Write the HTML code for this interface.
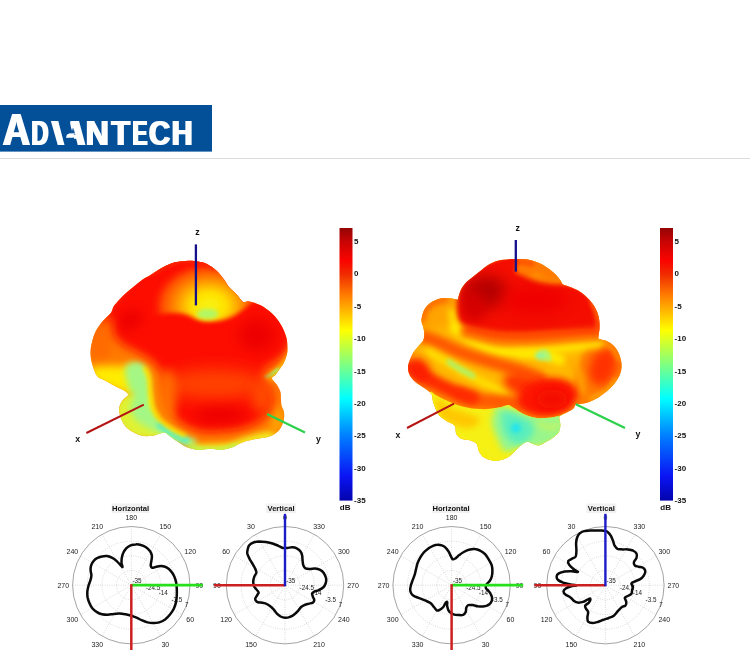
<!DOCTYPE html>
<html lang="en"><head><meta charset="utf-8"><title>Advantech antenna radiation pattern</title>
<style>html,body{margin:0;padding:0;background:#fff;overflow:hidden}body{width:750px;height:650px;font-family:"Liberation Sans",sans-serif}svg text{white-space:pre}</style></head>
<body>
<svg width="750" height="650" viewBox="0 0 750 650" style="display:block">
<defs>
<linearGradient id="jet" x1="0" y1="0" x2="0" y2="1">
<stop offset="0" stop-color="#940404"/>
<stop offset="0.05" stop-color="#c80404"/>
<stop offset="0.12" stop-color="#fa0400"/>
<stop offset="0.17" stop-color="#f02c00"/>
<stop offset="0.25" stop-color="#ff8000"/>
<stop offset="0.375" stop-color="#ffff00"/>
<stop offset="0.5" stop-color="#80ff80"/>
<stop offset="0.625" stop-color="#00ffff"/>
<stop offset="0.76" stop-color="#0080ff"/>
<stop offset="0.91" stop-color="#0a14f4"/>
<stop offset="1" stop-color="#0404ac"/>
</linearGradient>
<clipPath id="clipL"><path d="M188.5 260.8C192.3 260.7 194.9 261 198 261.5C201.1 262 203.9 262.4 207 264C210.1 265.6 214 268.4 216.8 271C219.6 273.6 222 276.8 224 279.5C226 282.2 226.9 284.5 229 287C231.1 289.5 234.4 292.1 236.5 294.3C238.6 296.6 240.2 299.2 241.4 300.5C242.7 301.8 242.6 302.1 244 302.3C245.4 302.5 247.2 301.2 250 301.7C252.8 302.2 257.4 303.6 260.6 305.2C263.8 306.8 266.5 308.8 269.2 311C271.9 313.2 274.3 315.5 276.6 318.4C278.9 321.3 281.2 324.9 282.8 328.2C284.4 331.5 285.7 334.9 286.5 338C287.3 341.1 287.3 344 287.4 346.7C287.5 349.4 287.6 351.3 287 354C286.4 356.7 285.3 360 284 362.7C282.7 365.4 280.4 367.9 279 370C277.6 372.1 276.6 373.6 275.4 375C274.2 376.4 271.8 376.9 272 378.5C272.2 380.1 275.4 382.4 276.8 384.6C278.2 386.9 279.8 389.5 280.5 392C281.2 394.5 280.8 397.1 281 399.4C281.2 401.6 281.1 403.6 281.5 405.5C281.9 407.4 283.2 408.6 283.6 410.5C284.1 412.4 284.3 414.6 284.2 416.6C284.1 418.7 283.8 420.6 283 422.8C282.2 425 281 428 279.3 430C277.6 432 275.2 433.8 273 435C270.8 436.2 268.5 436.9 265.8 437.5C263.1 438.1 260.5 438.1 257 438.8C253.5 439.5 248 440.6 245 441.5C242 442.4 241.2 443 239 444C236.8 445 234.8 446.6 231.7 447.6C228.6 448.6 224.1 449.8 220.6 450C217.1 450.2 214.5 448.8 210.8 448.8C207.1 448.8 202.4 450.2 198.5 450C194.6 449.8 190.7 448.8 187.4 447.6C184.1 446.4 181.7 444.5 178.8 442.6C175.9 440.8 172.4 438.1 170.2 436.5C167.9 434.9 166.9 433.3 165.3 432.8C163.7 432.3 162.7 432.9 160.4 433.4C158.2 433.9 154.9 435.4 151.8 435.8C148.7 436.2 145.3 436.5 142 435.8C138.7 435.1 134.9 433.2 132 431.5C129.1 429.8 126.6 427.8 124.7 425.4C122.8 422.9 121.3 419.7 120.4 416.8C119.5 413.9 118.9 410.9 119.2 408.2C119.5 405.5 120.8 402.9 122.2 400.8C123.6 398.7 126.9 396.8 127.8 395.6C128.7 394.4 128.3 394.5 127.6 393.6C126.9 392.7 125.6 391.6 123.5 390.3C121.4 389 117.9 387.6 114.8 386C111.7 384.4 107.9 382.1 105 380.5C102.1 378.9 99.4 378.9 97.3 376.3C95.2 373.7 93.5 368.7 92.4 365C91.3 361.3 90.6 357.7 90.5 354C90.4 350.3 90.9 346.9 91.8 343C92.7 339.1 94 334.6 96 330.8C98 327 101 323.3 103.5 320.3C106 317.3 109.3 315.1 111 312.8C112.7 310.5 112.3 308.7 113.6 306.6C114.8 304.6 116.4 302.8 118.5 300.5C120.6 298.2 123.5 295.2 126 293C128.5 290.8 130.6 289.2 133.3 287C136 284.8 139.1 282 142 280C144.9 278 148.1 276.5 150.5 275C152.9 273.5 154.2 272.5 156.7 271C159.2 269.5 162.2 267.4 165.3 266C168.4 264.6 171.1 263.2 175 262.3C178.9 261.4 184.7 260.9 188.5 260.8Z"/></clipPath>
<clipPath id="clipR"><path d="M494.5 261.7C497.2 260.7 499.9 260.1 503.5 259.7C507.1 259.2 512.1 259.1 515.8 259C519.5 258.9 522.5 258.9 525.6 259.3C528.7 259.7 531.3 260.3 534.2 261.2C537.1 262.1 540.1 263.4 542.8 264.8C545.5 266.2 547.9 268.1 550.2 269.8C552.5 271.6 554.6 273.5 556.4 275.3C558.1 277.1 559.6 279.2 560.7 280.8C561.8 282.4 561.5 283.6 563 284.6C564.5 285.6 567.1 285.8 569.6 286.8C572.1 287.8 575.5 289 578.2 290.5C580.9 292 583.2 293.9 585.6 296C588 298.1 590.5 300.9 592.4 303.4C594.2 305.9 595.6 308.1 596.7 310.8C597.8 313.5 598.8 316.3 599.2 319.4C599.7 322.5 599.5 326.2 599.4 329.2C599.2 332.2 598.3 335.8 598.3 337.5C598.3 339.2 598.2 338.7 599.6 339.3C601 339.9 604.1 339.9 606.5 341C608.9 342.1 612 343.9 614 346C616 348.1 617.6 350.8 618.8 353.5C620 356.2 620.9 359.3 621.3 362C621.7 364.7 621.7 367 621.3 369.5C620.9 372 620 374.6 618.8 377C617.6 379.4 616 381.8 614 384.2C612 386.6 609.2 389.3 606.5 391.6C603.8 393.9 600.9 396.1 598 397.8C595.1 399.5 592.2 401 589.3 402C586.4 403 583 403.6 580.7 404C578.5 404.4 577 403.7 575.8 404.5C574.6 405.3 574.8 407.5 573.3 408.8C571.8 410.1 569 411.4 567 412.5C565 413.6 562.3 414.7 561 415.5C559.7 416.3 559.3 416 559.2 417.5C559.1 419 560.3 422 560.3 424.4C560.3 426.8 560 429.8 559 431.8C558 433.9 556.2 435.1 554.2 436.7C552.2 438.3 549.3 440.2 546.8 441.6C544.3 443 541.7 444.9 539.4 445.3C537.1 445.7 535.3 444.6 533.2 444C531.1 443.4 529.2 441.4 527 441.8C524.8 442.2 522 444.7 519.7 446.5C517.5 448.3 515.5 450.8 513.5 452.7C511.4 454.6 509.6 456.3 507.4 457.6C505.1 458.9 502.4 459.8 500 460.3C497.6 460.8 495.4 461.1 492.7 460.7C490 460.2 486.3 459.1 484 457.6C481.7 456.1 480.2 453.8 479 451.5C477.8 449.2 478.1 445.9 476.7 444C475.3 442.1 472.9 441.2 470.5 440.4C468.1 439.6 464.4 440 462 439C459.6 438 457.6 436.4 456.4 434.2C455.1 432 456.2 427.9 454.5 425.6C452.8 423.4 448.7 422.6 446 420.7C443.3 418.8 440.6 417.4 438.5 414.5C436.4 411.6 434.7 406.6 433.6 403.5C432.5 400.4 432.4 397.6 432 396C431.6 394.4 432.3 395 431.5 394C430.7 393 429.1 391.6 427.2 390.2C425.2 388.8 422.1 386.9 419.8 385.3C417.5 383.7 415.4 382.2 413.6 380.4C411.9 378.5 410.2 376.5 409.3 374.2C408.4 371.9 407.9 369.2 408 366.8C408.1 364.4 409.1 362 410 359.5C410.9 357 412.2 354.2 413.6 352C415 349.8 416.9 348 418.5 346C420.1 344 422.6 342.1 423.5 339.8C424.4 337.5 424.2 334.5 424.2 332.4C424.1 330.3 423.6 328.7 423.2 327C422.8 325.3 421.8 323.8 421.6 322C421.4 320.2 421.5 318.7 422 316.5C422.5 314.3 423.4 311.1 424.7 309C426 306.9 427.8 305.1 429.6 303.6C431.5 302.1 433.6 300.9 435.8 300C438 299.1 440.6 298.3 443 298C445.4 297.7 448.2 298.1 450.5 298.3C452.8 298.6 455.5 299.3 456.7 299.5C457.9 299.7 457.6 299.8 457.9 299.3C458.2 298.9 458 298.4 458.5 296.8C459 295.2 459.7 292 461 289.5C462.3 287 464.3 284.2 466.5 282C468.7 279.8 471.6 277.9 474 276C476.4 274.1 478.4 272.5 480.6 270.8C482.8 269.1 484.9 267.1 487.2 265.6C489.5 264.1 491.8 262.7 494.5 261.7Z"/></clipPath>
<filter id="b1" filterUnits="userSpaceOnUse" x="0" y="200" width="750" height="320"><feGaussianBlur stdDeviation="1"/></filter>
<filter id="b2" filterUnits="userSpaceOnUse" x="0" y="200" width="750" height="320"><feGaussianBlur stdDeviation="2"/></filter>
<filter id="b3" filterUnits="userSpaceOnUse" x="0" y="200" width="750" height="320"><feGaussianBlur stdDeviation="3"/></filter>
<filter id="b4" filterUnits="userSpaceOnUse" x="0" y="200" width="750" height="320"><feGaussianBlur stdDeviation="4"/></filter>
<filter id="b5" filterUnits="userSpaceOnUse" x="0" y="200" width="750" height="320"><feGaussianBlur stdDeviation="5"/></filter>
<filter id="b6" filterUnits="userSpaceOnUse" x="0" y="200" width="750" height="320"><feGaussianBlur stdDeviation="6"/></filter>
<filter id="b7" filterUnits="userSpaceOnUse" x="0" y="200" width="750" height="320"><feGaussianBlur stdDeviation="7"/></filter>
<filter id="b8" filterUnits="userSpaceOnUse" x="0" y="200" width="750" height="320"><feGaussianBlur stdDeviation="8"/></filter>
<filter id="b10" filterUnits="userSpaceOnUse" x="0" y="200" width="750" height="320"><feGaussianBlur stdDeviation="10"/></filter>
<filter id="b12" filterUnits="userSpaceOnUse" x="0" y="200" width="750" height="320"><feGaussianBlur stdDeviation="12"/></filter>
<filter id="fat1" x="-20%" y="-5%" width="140%" height="110%"><feMorphology operator="dilate" radius="1 0"/></filter><filter id="fat2" x="-20%" y="-5%" width="140%" height="110%"><feMorphology operator="dilate" radius="2 0"/></filter>
</defs>
<rect width="750" height="650" fill="#fff"/>
<rect x="0" y="105" width="212" height="46.6" fill="#034f98"/>
<rect x="0" y="158" width="750" height="1" fill="#dcdcdc"/>
<clipPath id="cV"><path d="M45 118H55.5L63 147H45Z"/></clipPath>
<clipPath id="cA"><path d="M71 118H80L88 147H78.5L75.6 137.2L67 138V135.5L74 132.2Z"/></clipPath>
<g fill="#fff" font-family="'Liberation Sans',sans-serif" font-weight="bold" font-size="100"><g filter="url(#fat1)"><text transform="translate(2.7 144.8) scale(0.3786 0.4419)">A</text></g><g filter="url(#fat1)"><text transform="translate(31.4 144.8) scale(0.2348 0.3503)">D</text></g><g filter="url(#fat2)"><g clip-path="url(#cV)"><text transform="translate(52.8 144.8) scale(0.2694 0.3503)">V</text></g></g><g filter="url(#fat2)"><g clip-path="url(#cA)"><text transform="translate(65.4 144.8) scale(0.2579 0.3503)">A</text></g></g><g filter="url(#fat1)"><text transform="translate(85.7 144.8) scale(0.3198 0.3503)">N</text></g><g filter="url(#fat1)"><text transform="translate(111.6 144.8) scale(0.3023 0.3503)">T</text></g><g filter="url(#fat1)"><text transform="translate(132.5 144.8) scale(0.2228 0.3503)">E</text></g><g filter="url(#fat1)"><text transform="translate(149 144.8) scale(0.2921 0.3489)">C</text></g><g filter="url(#fat1)"><text transform="translate(171.7 144.8) scale(0.2875 0.3503)">H</text></g></g>
<radialGradient id="haloL" cx="209" cy="306" r="46" gradientUnits="userSpaceOnUse" gradientTransform="translate(209 306) scale(1.25 0.98) translate(-209 -306)"><stop offset="0" stop-color="#f8f410"/><stop offset="0.3" stop-color="#ffe000"/><stop offset="0.55" stop-color="#ff9600"/><stop offset="0.8" stop-color="#ff5800" stop-opacity="0.9"/><stop offset="1" stop-color="#fd2000" stop-opacity="0"/></radialGradient>
<g clip-path="url(#clipL)">
<rect x="80" y="250" width="230" height="210" fill="#ff7a00"/>
<ellipse cx="100" cy="340" rx="12" ry="22" fill="#ff6a00" filter="url(#b5)"/>
<path d="M90 368C92.3 366.3 98.7 366.3 104 366C109.3 365.7 116.3 365.7 122 366C127.7 366.3 135.3 363.3 138 368C140.7 372.7 141 390 138 394C135 398 126.3 393.7 120 392C113.7 390.3 105 386.7 100 384C95 381.3 91.7 378.7 90 376C88.3 373.3 87.7 369.7 90 368Z" fill="#ffec00" filter="url(#b4)"/>
<path d="M128 394C133.7 392.3 145.3 390.3 150 394C154.7 397.7 152.3 410 156 416C159.7 422 168.7 425.3 172 430C175.3 434.7 179.7 442.3 176 444C172.3 445.7 157.7 441.3 150 440C142.3 438.7 135.7 439.3 130 436C124.3 432.7 118.3 425.3 116 420C113.7 414.7 114 408.3 116 404C118 399.7 122.3 395.7 128 394Z" fill="#e0f230" filter="url(#b3)"/>
<path d="M126 366C129 362 141.7 359.7 146 362C150.3 364.3 151 373.7 152 380C153 386.3 151.3 394.3 152 400C152.7 405.7 153.7 410 156 414C158.3 418 162 421 166 424C170 427 175 429.3 180 432C185 434.7 194 437.3 196 440C198 442.7 195.3 447.7 192 448C188.7 448.3 181 444.3 176 442C171 439.7 166.7 436.3 162 434C157.3 431.7 152.3 430.3 148 428C143.7 425.7 139 423.3 136 420C133 416.7 130.3 412 130 408C129.7 404 134.3 399.7 134 396C133.7 392.3 129.3 391 128 386C126.7 381 123 370 126 366Z" fill="#a4f784" filter="url(#b3)"/>
<path d="M160 425C161.7 426.2 165.7 429.5 170 432C174.3 434.5 183.3 438.7 186 440" fill="none" stroke="#50eecc" stroke-width="6" stroke-linecap="round" stroke-linejoin="round" filter="url(#b2)"/>
<path d="M196 450C198.7 449.8 206.3 449.3 212 449C217.7 448.7 224.3 449.2 230 448C235.7 446.8 241 443.7 246 442C251 440.3 255.7 439 260 438C264.3 437 270 436.3 272 436" fill="none" stroke="#f0f020" stroke-width="10" stroke-linecap="round" stroke-linejoin="round" filter="url(#b3)"/>
<path d="M190 447C192.3 447.5 198.7 449.5 204 450C209.3 450.5 216.7 450.7 222 450C227.3 449.3 233.7 446.7 236 446" fill="none" stroke="#b8f650" stroke-width="5" stroke-linecap="round" stroke-linejoin="round" filter="url(#b2)"/>
<ellipse cx="277" cy="420" rx="8" ry="14" fill="#ffa000" filter="url(#b4)"/>
<path d="M289 350C288.2 352.3 286.2 360 284 364C281.8 368 279 371.7 276 374C273 376.3 267.7 377.3 266 378" fill="none" stroke="#ffd800" stroke-width="6" stroke-linecap="round" stroke-linejoin="round" filter="url(#b3)"/>
<path d="M278 369C276.7 370 272.2 373.7 270 375C267.8 376.3 265.8 376.7 265 377" fill="none" stroke="#a8f060" stroke-width="3" stroke-linecap="round" stroke-linejoin="round" filter="url(#b1)"/>
<path d="M146 368C146.7 369.7 149.2 374.3 150 378C150.8 381.7 150.5 385.3 151 390C151.5 394.7 151.5 401.3 153 406C154.5 410.7 156.8 414.3 160 418C163.2 421.7 168 425.3 172 428C176 430.7 182 433 184 434" fill="none" stroke="#fff000" stroke-width="6" stroke-linecap="round" stroke-linejoin="round" filter="url(#b2)"/>
<path d="M134 350C136.7 352 146.2 357.7 150 362C153.8 366.3 155.5 371 157 376C158.5 381 158.3 387 159 392C159.7 397 159.5 402 161 406C162.5 410 165.2 413 168 416C170.8 419 174 421.7 178 424C182 426.3 189.7 429 192 430" fill="none" stroke="#ff8a00" stroke-width="10" stroke-linecap="round" stroke-linejoin="round" filter="url(#b3)"/>
<path d="M100 322C100 319 103.7 310 112 300C120.3 290 138.7 270.3 150 262C161.3 253.7 166.7 251.2 180 250C193.3 248.8 218.3 248.3 230 255C241.7 261.7 243.3 282.2 250 290C256.7 297.8 263 297 270 302C277 307 288.7 312.7 292 320C295.3 327.3 292.3 339.3 290 346C287.7 352.7 282 356.3 278 360C274 363.7 268.7 364.7 266 368C263.3 371.3 261.3 376.3 262 380C262.7 383.7 268.3 386.3 270 390C271.7 393.7 272.3 398 272 402C271.7 406 270.3 410.7 268 414C265.7 417.3 262 419.7 258 422C254 424.3 249.3 426.5 244 428C238.7 429.5 232.5 430.3 226 431C219.5 431.7 210.7 432.3 205 432C199.3 431.7 195.8 430.3 192 429C188.2 427.7 185.3 426.5 182 424C178.7 421.5 174.5 417.7 172 414C169.5 410.3 168.2 406.7 167 402C165.8 397.3 166 391 165 386C164 381 163.5 376.3 161 372C158.5 367.7 154.2 363.3 150 360C145.8 356.7 140.7 354.7 136 352C131.3 349.3 125.7 347 122 344C118.3 341 115.7 338.3 114 334C112.3 329.7 114.3 320 112 318C109.7 316 100 325 100 322Z" fill="#fd1000" filter="url(#b5)"/>
<ellipse cx="215" cy="384" rx="52" ry="15" fill="#ff4200" filter="url(#b8)"/>
<ellipse cx="262" cy="398" rx="10" ry="16" fill="#ff5a00" filter="url(#b6)" opacity="0.8"/>
<ellipse cx="168" cy="395" rx="9" ry="26" fill="#ff7a00" filter="url(#b5)" opacity="0.8"/>
<ellipse cx="220" cy="415" rx="26" ry="8" fill="#ee0400" filter="url(#b6)"/>
<ellipse cx="257" cy="335" rx="18" ry="16" fill="#ec0400" filter="url(#b7)"/>
<ellipse cx="130" cy="320" rx="14" ry="10" fill="#ee0600" filter="url(#b6)" transform="rotate(-30 130 320)"/>
<clipPath id="lipL"><path d="M140 250H260V296C248 304 240 316 222 320C210 322.5 200 322 192 317C182 311 170 312 140 318Z"/></clipPath>
<g filter="url(#b2)"><g clip-path="url(#lipL)"><ellipse cx="209" cy="306" rx="58" ry="46" fill="url(#haloL)"/></g></g>
<ellipse cx="207.5" cy="314" rx="11" ry="5" fill="#b0f868" filter="url(#b2)"/>
<path d="M150 274C154.2 272 166.7 264.2 175 262C183.3 259.8 193.5 260 200 261C206.5 262 211.7 266.8 214 268" fill="none" stroke="#fa2c04" stroke-width="4" stroke-linecap="round" stroke-linejoin="round" filter="url(#b2)"/>
</g>
<line x1="86.4" y1="433" x2="143.8" y2="404.6" stroke="#b41414" stroke-width="2"/>
<line x1="195.9" y1="244.4" x2="195.9" y2="305.4" stroke="#14108c" stroke-width="2.3"/>
<line x1="267" y1="414" x2="305" y2="432.6" stroke="#2bd14a" stroke-width="2.2"/>
<g font-family="'Liberation Sans',sans-serif" font-weight="bold" font-size="8.8" fill="#111" text-anchor="middle">
<text x="197.4" y="234.5">z</text><text x="77.6" y="441.9">x</text><text x="318.5" y="441.9">y</text>
</g>
<g clip-path="url(#clipR)">
<rect x="400" y="250" width="230" height="220" fill="#ff8a00"/>
<path d="M514 256C518.3 254 531.3 253.3 540 258C548.7 262.7 566 279.3 566 284C566 288.7 547 287 540 286C533 285 528.3 280.7 524 278C519.7 275.3 515.7 273.7 514 270C512.3 266.3 509.7 258 514 256Z" fill="#ff7a00" filter="url(#b2)"/>
<path d="M534 276C536.2 276.8 542.7 279.8 547 281C551.3 282.2 557.8 282.7 560 283" fill="none" stroke="#ffa400" stroke-width="6" stroke-linecap="round" stroke-linejoin="round" filter="url(#b3)"/>
<path d="M517 262C518.2 262 521.5 261.7 524 262C526.5 262.3 530.7 263.7 532 264" fill="none" stroke="#ff5000" stroke-width="5" stroke-linecap="round" stroke-linejoin="round" filter="url(#b2)"/>
<path d="M418 300C423 295.7 438.7 294 446 294C453.3 294 459.3 292.3 462 300C464.7 307.7 465.7 332.3 462 340C458.3 347.7 447 346 440 346C433 346 424 344.3 420 340C416 335.7 416.3 326.7 416 320C415.7 313.3 413 304.3 418 300Z" fill="#ffa400" filter="url(#b3)"/>
<path d="M422 320C422.3 318.5 422.3 313.8 424 311C425.7 308.2 428.3 305 432 303C435.7 301 443.7 299.7 446 299" fill="none" stroke="#ff5c00" stroke-width="6" stroke-linecap="round" stroke-linejoin="round" filter="url(#b3)"/>
<path d="M452 312C452.3 314 453 320.3 454 324C455 327.7 457.3 332.3 458 334" fill="none" stroke="#ffe400" stroke-width="7" stroke-linecap="round" stroke-linejoin="round" filter="url(#b3)"/>
<path d="M420 336C427.3 330.3 442.7 325.3 456 326C469.3 326.7 482.7 337.7 500 340C517.3 342.3 543.3 340.7 560 340C576.7 339.3 593.3 334.3 600 336C606.7 337.7 603.3 339.3 600 350C596.7 360.7 593.3 391.7 580 400C566.7 408.3 538.3 400.7 520 400C501.7 399.3 485 399.3 470 396C455 392.7 439.7 386 430 380C420.3 374 413.7 367.3 412 360C410.3 352.7 412.7 341.7 420 336Z" fill="#ffb800" filter="url(#b4)"/>
<path d="M596 336C601.8 333.3 610.3 339.3 615 344C619.7 348.7 623.5 357.7 624 364C624.5 370.3 622 376.3 618 382C614 387.7 606.3 394 600 398C593.7 402 584.3 407.3 580 406C575.7 404.7 574 397.7 574 390C574 382.3 576.3 369 580 360C583.7 351 590.2 338.7 596 336Z" fill="#ff7a00" filter="url(#b3)"/>
<ellipse cx="603" cy="367" rx="13" ry="19" fill="#ff3000" filter="url(#b5)" transform="rotate(20 603 367)"/>
<path d="M590 399C592.7 397.7 601.7 394.3 606 391C610.3 387.7 614.3 381 616 379" fill="none" stroke="#ffb000" stroke-width="3" stroke-linecap="round" stroke-linejoin="round" filter="url(#b2)"/>
<path d="M600 342C602 343 608.8 345 612 348C615.2 351 617.8 358 619 360" fill="none" stroke="#ff9800" stroke-width="3" stroke-linecap="round" stroke-linejoin="round" filter="url(#b2)"/>
<path d="M455 328C457.8 330 465.3 336.3 472 340C478.7 343.7 487 348 495 350C503 352 511.7 351.3 520 352C528.3 352.7 538.3 352.7 545 354C551.7 355.3 557.5 359 560 360" fill="none" stroke="#ffee00" stroke-width="10" stroke-linecap="round" stroke-linejoin="round" filter="url(#b3)"/>
<path d="M520 351C524.2 350.7 536.7 349.8 545 349C553.3 348.2 561.2 347 570 346C578.8 345 593.3 343.5 598 343" fill="none" stroke="#ffe800" stroke-width="10" stroke-linecap="round" stroke-linejoin="round" filter="url(#b3)"/>
<path d="M572 362C573.3 364.3 578.3 371 580 376C581.7 381 581.7 389.3 582 392" fill="none" stroke="#ffa800" stroke-width="6" stroke-linecap="round" stroke-linejoin="round" filter="url(#b3)"/>
<ellipse cx="542" cy="355.5" rx="7" ry="4.5" fill="#90f4a0" filter="url(#b2)"/>
<path d="M544 352C544.8 353.2 548.2 357.8 549 359" fill="none" stroke="#b0f870" stroke-width="5" stroke-linecap="round" stroke-linejoin="round" filter="url(#b2)"/>
<path d="M424 337C426 337.7 430 338.5 436 341C442 343.5 451.5 348.7 460 352C468.5 355.3 477.8 358.2 487 361C496.2 363.8 506.2 366.2 515 369C523.8 371.8 535.8 376.5 540 378" fill="none" stroke="#ff5800" stroke-width="13" stroke-linecap="round" stroke-linejoin="round" filter="url(#b3)"/>
<path d="M428 351.5C430.8 353.1 439.7 357.9 445 361C450.3 364.1 454.5 366.8 460 370C465.5 373.2 472.2 377 478 380C483.8 383 490.3 385.7 495 388C499.7 390.3 504.2 393 506 394" fill="none" stroke="#ffe800" stroke-width="6" stroke-linecap="round" stroke-linejoin="round" filter="url(#b3)"/>
<path d="M449 362C450.8 363.2 456 366.7 460 369C464 371.3 470.8 374.8 473 376" fill="none" stroke="#a8f470" stroke-width="5" stroke-linecap="round" stroke-linejoin="round" filter="url(#b2)"/>
<path d="M460 394C463.3 395 473.3 398.7 480 400C486.7 401.3 493.3 401.3 500 402C506.7 402.7 516.7 403.7 520 404" fill="none" stroke="#ff5a00" stroke-width="14" stroke-linecap="round" stroke-linejoin="round" filter="url(#b3)"/>
<path d="M410 368C413.3 370 422.5 376 430 380C437.5 384 448 389 455 392C462 395 469.2 397 472 398" fill="none" stroke="#ff2c00" stroke-width="14" stroke-linecap="round" stroke-linejoin="round" filter="url(#b3)"/>
<ellipse cx="420" cy="370" rx="9" ry="13" fill="#fd1a00" filter="url(#b4)" transform="rotate(-30 420 370)"/>
<ellipse cx="524" cy="386" rx="22" ry="11" fill="#ff3600" filter="url(#b4)" transform="rotate(22 524 386)"/>
<ellipse cx="548" cy="397" rx="30" ry="19" fill="#fd1400" filter="url(#b3)" transform="rotate(-8 548 397)"/>
<ellipse cx="552" cy="399" rx="16" ry="10" fill="#f40800" filter="url(#b5)"/>
<clipPath id="lowR"><path d="M430 392.5C431.4 390.2 433.4 394.2 437.3 396C441.2 397.8 448.2 401.5 453.3 403.5C458.4 405.5 462.9 406.9 468 407.8C473.1 408.8 478.9 409.2 484 409.2C489.1 409.2 494.8 408.3 498.8 407.6C502.8 406.9 505.8 405.1 508 405C510.2 404.9 509.5 405.4 512.3 407C515.1 408.6 520.5 412.7 524.6 414.5C528.7 416.3 532.9 417.4 537 418C541.1 418.6 545.5 418.1 549.2 417.8C552.9 417.5 555.5 416.6 559 416C562.5 415.4 567.8 410 570 414C572.2 418 573.7 433 572 440C570.3 447 568.7 450.3 560 456C551.3 461.7 535 471 520 474C505 477 484 479 470 474C456 469 442.8 454.7 436 444C429.2 433.3 430 418.6 429 410C428 401.4 428.6 394.8 430 392.5Z"/></clipPath>
<g clip-path="url(#lowR)">
<rect x="400" y="370" width="200" height="110" fill="#f6f014"/>
<path d="M436 398C438 396.7 446.3 405.3 452 408C457.7 410.7 465.3 412 470 414C474.7 416 480 417.7 480 420C480 422.3 474.7 427.3 470 428C465.3 428.7 457 426 452 424C447 422 442.7 420.3 440 416C437.3 411.7 434 399.3 436 398Z" fill="#ffc800" filter="url(#b3)"/>
<path d="M500 406C506 406.3 519.7 412.7 530 414C540.3 415.3 556.3 411 562 414C567.7 417 566.3 427 564 432C561.7 437 553.3 441.5 548 444C542.7 446.5 536.3 446.7 532 447C527.7 447.3 526.3 445.2 522 446C517.7 446.8 510 453 506 452C502 451 500.3 444.7 498 440C495.7 435.3 492.7 428.7 492 424C491.3 419.3 492.7 415 494 412C495.3 409 494 405.7 500 406Z" fill="#98f68c" filter="url(#b3)"/>
<path d="M504 412C507.7 411 519 415.3 524 418C529 420.7 533.3 424.3 534 428C534.7 431.7 531 437.3 528 440C525 442.7 519.7 444.7 516 444C512.3 443.3 508.3 439.3 506 436C503.7 432.7 502.3 428 502 424C501.7 420 500.3 413 504 412Z" fill="#5ceebc" filter="url(#b3)"/>
<ellipse cx="516" cy="428" rx="5" ry="5" fill="#20e4ec" filter="url(#b2)"/>
<path d="M540 424C542 424.7 549 428 552 428C555 428 557 424.7 558 424" fill="none" stroke="#c8f460" stroke-width="5" stroke-linecap="round" stroke-linejoin="round" filter="url(#b3)"/>
<path d="M486 448C487.7 449.7 492.3 456.3 496 458C499.7 459.7 506 458 508 458" fill="none" stroke="#f4f014" stroke-width="6" stroke-linecap="round" stroke-linejoin="round" filter="url(#b2)"/>
</g>
<path d="M464 334C469.2 335.2 485.7 339.7 495 341C504.3 342.3 511.7 342 520 342C528.3 342 536.7 341.5 545 341C553.3 340.5 561.2 339.7 570 339C578.8 338.3 593.3 337.3 598 337" fill="none" stroke="#ff8000" stroke-width="8" stroke-linecap="round" stroke-linejoin="round" filter="url(#b3)"/>
<path d="M458 300C458.2 296.5 458.2 295.7 459 293C459.8 290.3 461.2 286.8 463 284C464.8 281.2 467.3 278.5 470 276C472.7 273.5 476 271.2 479 269C482 266.8 484.2 264.8 488 263C491.8 261.2 497.3 259 502 258C506.7 257 513.7 254.8 516 257C518.3 259.2 515 268.4 516 271.5C517 274.6 519.3 274 522 275.5C524.7 277 528.8 279.2 532 280.5C535.2 281.8 537.7 282.8 541 283.5C544.3 284.2 548.2 284.8 552 285C555.8 285.2 559.3 284.3 564 285C568.7 285.7 575.2 286 580 289C584.8 292 589.8 297.8 593 303C596.2 308.2 597.5 315.5 599 320C600.5 324.5 604.3 328.2 602 330C599.7 331.8 592 330.7 585 331C578 331.3 567.5 331.7 560 332C552.5 332.3 546.7 332.7 540 333C533.3 333.3 527.5 334 520 334C512.5 334 502.5 333.8 495 333C487.5 332.2 480.5 330.7 475 329C469.5 327.3 464.8 325.5 462 323C459.2 320.5 458.7 317.8 458 314C457.3 310.2 457.8 303.5 458 300Z" fill="#f40c00" filter="url(#b2)"/>
<path d="M466 329C470.8 330 486 333.8 495 335C504 336.2 511.7 336 520 336C528.3 336 536.7 335.5 545 335C553.3 334.5 561.2 333.7 570 333C578.8 332.3 593.3 331.3 598 331" fill="none" stroke="#ff4200" stroke-width="8" stroke-linecap="round" stroke-linejoin="round" filter="url(#b3)"/>
<path d="M592 302C592.9 304.7 596.5 312.7 597.5 318C598.5 323.3 597.9 331.3 598 334" fill="none" stroke="#ff5a00" stroke-width="4" stroke-linecap="round" stroke-linejoin="round" filter="url(#b2)"/>
<ellipse cx="486" cy="292" rx="22" ry="16" fill="#b40000" filter="url(#b7)"/>
<ellipse cx="474" cy="306" rx="12" ry="16" fill="#d40200" filter="url(#b6)"/>
<ellipse cx="535" cy="300" rx="34" ry="14" fill="#f00400" filter="url(#b8)"/>
</g>
<line x1="515.8" y1="240" x2="515.8" y2="271.6" stroke="#14108c" stroke-width="2.3"/>
<line x1="407" y1="428" x2="454" y2="403.6" stroke="#b41414" stroke-width="2"/>
<line x1="575.8" y1="404.3" x2="625" y2="428" stroke="#2bd14a" stroke-width="2.2"/>
<g font-family="'Liberation Sans',sans-serif" font-weight="bold" font-size="8.8" fill="#111" text-anchor="middle">
<text x="517.6" y="230.5">z</text><text x="398" y="437.5">x</text><text x="638" y="436.5">y</text>
</g>
<rect x="339.5" y="228" width="13" height="272.6" fill="url(#jet)"/>
<g font-family="'Liberation Sans',sans-serif" font-weight="bold" font-size="8" fill="#111">
<text x="354.1" y="243.9">5</text>
<text x="354.1" y="276.3">0</text>
<text x="354.1" y="308.7">-5</text>
<text x="354.1" y="341.1">-10</text>
<text x="354.1" y="373.5">-15</text>
<text x="354.1" y="405.9">-20</text>
<text x="354.1" y="438.3">-25</text>
<text x="354.1" y="470.7">-30</text>
<text x="354.1" y="503.1">-35</text>
<text x="345.1" y="510.2" text-anchor="middle">dB</text>
</g>
<rect x="660" y="228" width="13" height="272.6" fill="url(#jet)"/>
<g font-family="'Liberation Sans',sans-serif" font-weight="bold" font-size="8" fill="#111">
<text x="674.6" y="243.9">5</text>
<text x="674.6" y="276.3">0</text>
<text x="674.6" y="308.7">-5</text>
<text x="674.6" y="341.1">-10</text>
<text x="674.6" y="373.5">-15</text>
<text x="674.6" y="405.9">-20</text>
<text x="674.6" y="438.3">-25</text>
<text x="674.6" y="470.7">-30</text>
<text x="674.6" y="503.1">-35</text>
<text x="665.6" y="510.2" text-anchor="middle">dB</text>
</g>
<g>
<rect x="111.6" y="503.5" width="38" height="9.5" fill="#f1f1f1"/>
<text x="130.6" y="510.9" text-anchor="middle" font-family="'Liberation Sans',sans-serif" font-weight="bold" font-size="7.6" fill="#111">Horizontal</text>
<g fill="none" stroke="#9a9a9a" stroke-width="0.5">
<circle cx="131.3" cy="585.2" r="58.7" stroke="#7d7d7d" stroke-width="0.7"/>
<circle cx="131.3" cy="585.2" r="14.7" stroke-dasharray="0.8 1.5" stroke="#a4a4a4"/>
<circle cx="131.3" cy="585.2" r="29.4" stroke-dasharray="0.8 1.5" stroke="#a4a4a4"/>
<circle cx="131.3" cy="585.2" r="44" stroke-dasharray="0.8 1.5" stroke="#a4a4a4"/>
<line x1="72.6" y1="585.2" x2="190" y2="585.2" stroke-dasharray="0.8 1.5" stroke="#a4a4a4"/>
<line x1="80.5" y1="555.9" x2="182.1" y2="614.6" stroke-dasharray="0.8 1.5" stroke="#a4a4a4"/>
<line x1="102" y1="534.4" x2="160.7" y2="636" stroke-dasharray="0.8 1.5" stroke="#a4a4a4"/>
<line x1="131.3" y1="526.5" x2="131.3" y2="643.9" stroke-dasharray="0.8 1.5" stroke="#a4a4a4"/>
<line x1="160.7" y1="534.4" x2="102" y2="636" stroke-dasharray="0.8 1.5" stroke="#a4a4a4"/>
<line x1="182.1" y1="555.9" x2="80.5" y2="614.6" stroke-dasharray="0.8 1.5" stroke="#a4a4a4"/>
</g>
<g font-family="'Liberation Sans',sans-serif" font-size="7" fill="#222" text-anchor="middle">
<text x="165.3" y="646.6">30</text>
<text x="190.2" y="621.7">60</text>
<text x="199.3" y="587.7">90</text>
<text x="190.2" y="553.7">120</text>
<text x="165.3" y="528.8">150</text>
<text x="131.3" y="519.7">180</text>
<text x="97.3" y="528.8">210</text>
<text x="72.4" y="553.7">240</text>
<text x="63.3" y="587.7">270</text>
<text x="72.4" y="621.7">300</text>
<text x="97.3" y="646.6">330</text>
</g>
<g font-family="'Liberation Sans',sans-serif" font-size="6.3" fill="#222">
<text x="132.5" y="583.4">-35</text>
<text x="145.9" y="589.6">-24.5</text>
<text x="158.7" y="595.4">-14</text>
<text x="171.5" y="602">-3.5</text>
<text x="185.1" y="606.5">7</text>
</g>
<path d="M122.5 567C122.7 566.6 121.6 564.5 121.5 563C121.4 561.5 121.5 559.6 121.8 557.9C122.1 556.2 122.5 554.3 123.3 552.7C124 551.1 125 549.6 126.2 548.3C127.4 547.1 129 546.1 130.6 545.4C132.2 544.7 134 544.4 135.7 544.4C137.4 544.3 139.2 544.5 140.9 545C142.6 545.4 144.5 546.3 146 547.3C147.5 548.4 149.1 549.9 150.1 551.3C151.1 552.7 151.6 554.1 151.9 555.7C152.1 557.3 151.6 559.2 151.4 560.8C151.2 562.4 150.6 564 150.7 565.2C150.8 566.4 151.2 567.6 152.2 567.8C153.1 568.1 154.7 567 156.3 566.7C157.8 566.3 159.7 565.8 161.4 565.9C163.1 566.1 164.9 566.5 166.5 567.4C168.1 568.3 169.7 569.6 170.9 571.1C172.2 572.5 173.3 574.4 174.2 576.2C175 578 175.6 580 176.1 582.1C176.5 584.1 176.7 586.5 176.8 588.7C176.9 590.9 176.9 593.1 176.8 595.3C176.7 597.5 176.6 599.7 176.1 601.9C175.6 604.1 174.8 606.4 173.9 608.5C172.9 610.5 171.7 612.5 170.2 614.3C168.7 616.2 166.9 618.1 165.1 619.5C163.2 620.8 161.2 621.8 159.2 622.4C157.2 623 155.3 623.1 153.3 623.1C151.4 623.1 149.4 622.9 147.5 622.4C145.5 621.9 143.4 621 141.6 620.2C139.8 619.4 138.2 618.4 136.5 617.7C134.8 617 133.2 616.4 131.3 615.8C129.5 615.2 127.4 614.7 125.5 614.3C123.5 614 121.6 613.7 119.6 613.6C117.6 613.5 115.7 613.7 113.7 613.9C111.8 614.1 109.8 614.7 107.9 614.8C105.9 614.8 103.8 614.8 102 614.3C100.2 613.9 98.5 613.1 96.9 612.1C95.3 611.2 93.7 609.9 92.5 608.5C91.2 607 90.3 605.2 89.5 603.3C88.7 601.5 88 599.4 87.6 597.5C87.3 595.5 87.2 593.6 87.3 591.6C87.5 589.6 88 587.6 88.5 585.7C89 583.9 89.8 582.3 90.3 580.6C90.8 578.9 91.4 577.2 91.4 575.5C91.5 573.8 90.6 571.9 90.6 570.3C90.5 568.7 90.6 567.4 91 565.9C91.4 564.5 92.2 562.8 93.2 561.5C94.2 560.2 95.4 559 96.9 558.2C98.3 557.3 100.3 556.7 102 556.4C103.7 556.1 105.4 555.9 107.1 556.1C108.8 556.4 110.7 557 112.3 557.9C113.9 558.7 115.3 559.9 116.7 561.1C118 562.3 119.4 563.9 120.3 564.9C121.3 565.9 122.3 567.3 122.5 567Z" fill="none" stroke="#0a0a0a" stroke-width="2.5" stroke-linejoin="round"/>
<line x1="131.3" y1="585.2" x2="202.8" y2="585.2" stroke="#26e01c" stroke-width="2.8"/>
<line x1="131.3" y1="584.2" x2="131.3" y2="651" stroke="#cc2020" stroke-width="2.5"/>
</g>
<g>
<rect x="266" y="503.5" width="30" height="9.5" fill="#f1f1f1"/>
<text x="281" y="510.9" text-anchor="middle" font-family="'Liberation Sans',sans-serif" font-weight="bold" font-size="7.6" fill="#111">Vertical</text>
<g fill="none" stroke="#9a9a9a" stroke-width="0.5">
<circle cx="285" cy="585.2" r="58.7" stroke="#7d7d7d" stroke-width="0.7"/>
<circle cx="285" cy="585.2" r="14.7" stroke-dasharray="0.8 1.5" stroke="#a4a4a4"/>
<circle cx="285" cy="585.2" r="29.4" stroke-dasharray="0.8 1.5" stroke="#a4a4a4"/>
<circle cx="285" cy="585.2" r="44" stroke-dasharray="0.8 1.5" stroke="#a4a4a4"/>
<line x1="226.3" y1="585.2" x2="343.7" y2="585.2" stroke-dasharray="0.8 1.5" stroke="#a4a4a4"/>
<line x1="234.2" y1="555.9" x2="335.8" y2="614.6" stroke-dasharray="0.8 1.5" stroke="#a4a4a4"/>
<line x1="255.6" y1="534.4" x2="314.4" y2="636" stroke-dasharray="0.8 1.5" stroke="#a4a4a4"/>
<line x1="285" y1="526.5" x2="285" y2="643.9" stroke-dasharray="0.8 1.5" stroke="#a4a4a4"/>
<line x1="314.3" y1="534.4" x2="255.7" y2="636" stroke-dasharray="0.8 1.5" stroke="#a4a4a4"/>
<line x1="335.8" y1="555.9" x2="234.2" y2="614.6" stroke-dasharray="0.8 1.5" stroke="#a4a4a4"/>
</g>
<g font-family="'Liberation Sans',sans-serif" font-size="7" fill="#222" text-anchor="middle">
<text x="285" y="519.7">0</text>
<text x="251" y="528.8">30</text>
<text x="226.1" y="553.7">60</text>
<text x="217" y="587.7">90</text>
<text x="226.1" y="621.7">120</text>
<text x="251" y="646.6">150</text>
<text x="319" y="646.6">210</text>
<text x="343.9" y="621.7">240</text>
<text x="353" y="587.7">270</text>
<text x="343.9" y="553.7">300</text>
<text x="319" y="528.8">330</text>
</g>
<g font-family="'Liberation Sans',sans-serif" font-size="6.3" fill="#222">
<text x="286.2" y="583.4">-35</text>
<text x="299.6" y="589.6">-24.5</text>
<text x="312.4" y="595.4">-14</text>
<text x="325.2" y="602">-3.5</text>
<text x="338.8" y="606.5">7</text>
</g>
<path d="M247.6 549.8C247.9 548.5 248.1 546.6 249.1 545.4C250 544.2 251.8 543.1 253.5 542.5C255.2 541.8 257.3 541.5 259.3 541.4C261.4 541.4 263.7 541.7 265.9 542C268.1 542.4 270.5 542.9 272.5 543.5C274.6 544.1 276.7 545.1 278.4 545.8C280.1 546.6 281.3 547.6 282.8 547.9C284.3 548.2 285.6 548 287.2 547.9C288.8 547.8 290.7 547.2 292.3 547.3C293.9 547.4 295.4 547.7 296.7 548.3C298.1 549 299.5 550 300.4 551.3C301.3 552.5 301.8 554.1 302.2 555.7C302.5 557.3 302.4 559.2 302.6 560.8C302.8 562.4 302.8 563.9 303.3 565.2C303.8 566.5 304.4 567.8 305.5 568.4C306.6 569 308.3 568.9 309.9 568.9C311.5 568.9 313.4 568.3 315.1 568.4C316.8 568.6 318.7 569.1 320.2 569.9C321.7 570.7 322.9 571.8 323.9 573.3C324.8 574.7 325.8 576.7 326.1 578.4C326.4 580.1 326.1 582 325.6 583.5C325.1 585 324.3 586.4 323.1 587.5C322 588.6 320.2 589.4 318.7 590.1C317.3 590.8 315.4 591.1 314.3 591.6C313.2 592.1 312.4 592.5 312.1 593.4C311.9 594.2 312.5 595.6 312.9 596.7C313.2 597.9 314.3 599.1 314.3 600.1C314.3 601.1 313.7 602 312.9 602.6C312 603.2 310.5 603.3 309.2 603.6C307.9 604 306.1 604.2 304.8 604.8C303.5 605.4 302.2 606 301.1 607C300 608 299.3 609.4 298.2 610.7C297.1 611.9 295.9 613.3 294.5 614.3C293.2 615.4 291.7 616.3 290.1 616.8C288.5 617.4 286.6 617.8 285 617.7C283.4 617.7 281.9 617.2 280.6 616.5C279.3 615.8 278 614.7 276.9 613.6C275.8 612.5 275.1 611.2 274 609.9C272.9 608.7 271.7 607.3 270.3 606.3C269 605.2 267.5 604.2 265.9 603.6C264.3 603 262.3 602.9 260.8 602.6C259.3 602.3 258.1 602.5 257.1 601.9C256.2 601.3 255.2 600 255.2 598.9C255.2 597.8 256.6 596.4 257.1 595.3C257.7 594.2 258.7 593.3 258.6 592.3C258.5 591.4 257.1 590.4 256.4 589.4C255.7 588.4 254.7 587.7 254.2 586.5C253.7 585.2 253.2 583.7 253.2 582.1C253.2 580.5 253.7 578.5 254.2 576.9C254.7 575.3 256.3 574 256.4 572.5C256.5 571.1 255.7 569.7 254.9 568.1C254.2 566.5 253 564.7 252 563C251 561.3 249.8 559.5 249.1 557.9C248.3 556.3 247.6 554.8 247.3 553.5C247.1 552.1 247.3 551.1 247.6 549.8Z" fill="none" stroke="#0a0a0a" stroke-width="2.5" stroke-linejoin="round"/>
<line x1="214" y1="585.2" x2="285" y2="585.2" stroke="#cc2020" stroke-width="2.5"/>
<line x1="285" y1="586.2" x2="285" y2="513.8" stroke="#1c1cc8" stroke-width="2.4"/>
</g>
<g>
<rect x="432" y="503.5" width="38" height="9.5" fill="#f1f1f1"/>
<text x="451" y="510.9" text-anchor="middle" font-family="'Liberation Sans',sans-serif" font-weight="bold" font-size="7.6" fill="#111">Horizontal</text>
<g fill="none" stroke="#9a9a9a" stroke-width="0.5">
<circle cx="451.6" cy="585.2" r="58.7" stroke="#7d7d7d" stroke-width="0.7"/>
<circle cx="451.6" cy="585.2" r="14.7" stroke-dasharray="0.8 1.5" stroke="#a4a4a4"/>
<circle cx="451.6" cy="585.2" r="29.4" stroke-dasharray="0.8 1.5" stroke="#a4a4a4"/>
<circle cx="451.6" cy="585.2" r="44" stroke-dasharray="0.8 1.5" stroke="#a4a4a4"/>
<line x1="392.9" y1="585.2" x2="510.3" y2="585.2" stroke-dasharray="0.8 1.5" stroke="#a4a4a4"/>
<line x1="400.8" y1="555.9" x2="502.4" y2="614.6" stroke-dasharray="0.8 1.5" stroke="#a4a4a4"/>
<line x1="422.2" y1="534.4" x2="481" y2="636" stroke-dasharray="0.8 1.5" stroke="#a4a4a4"/>
<line x1="451.6" y1="526.5" x2="451.6" y2="643.9" stroke-dasharray="0.8 1.5" stroke="#a4a4a4"/>
<line x1="480.9" y1="534.4" x2="422.3" y2="636" stroke-dasharray="0.8 1.5" stroke="#a4a4a4"/>
<line x1="502.4" y1="555.9" x2="400.8" y2="614.6" stroke-dasharray="0.8 1.5" stroke="#a4a4a4"/>
</g>
<g font-family="'Liberation Sans',sans-serif" font-size="7" fill="#222" text-anchor="middle">
<text x="485.6" y="646.6">30</text>
<text x="510.5" y="621.7">60</text>
<text x="519.6" y="587.7">90</text>
<text x="510.5" y="553.7">120</text>
<text x="485.6" y="528.8">150</text>
<text x="451.6" y="519.7">180</text>
<text x="417.6" y="528.8">210</text>
<text x="392.7" y="553.7">240</text>
<text x="383.6" y="587.7">270</text>
<text x="392.7" y="621.7">300</text>
<text x="417.6" y="646.6">330</text>
</g>
<g font-family="'Liberation Sans',sans-serif" font-size="6.3" fill="#222">
<text x="452.8" y="583.4">-35</text>
<text x="466.2" y="589.6">-24.5</text>
<text x="479" y="595.4">-14</text>
<text x="491.8" y="602">-3.5</text>
<text x="505.4" y="606.5">7</text>
</g>
<path d="M452.8 559.3C451.9 558.9 451.3 557 450.6 555.7C449.9 554.3 449.3 552.6 448.4 551.3C447.5 549.9 446.6 548.6 445.5 547.6C444.4 546.6 443.1 545.9 441.8 545.4C440.5 544.9 438.9 544.6 437.4 544.7C435.9 544.7 434.5 545.2 433 545.8C431.5 546.5 430.1 547.3 428.6 548.3C427.1 549.4 425.5 550.5 424.2 552C422.9 553.5 421.6 555.3 420.5 557.1C419.4 559 418.3 561 417.6 563C416.9 565 416.6 566.9 416.1 568.9C415.6 570.8 415.3 572.8 414.7 574.7C414.1 576.7 413.2 578.6 412.5 580.6C411.8 582.6 410.9 584.8 410.6 586.5C410.2 588.2 410 589.5 410.3 590.9C410.5 592.2 411.2 593.6 412 594.5C412.9 595.5 414 596 415.4 596.7C416.8 597.4 418.8 598 420.5 598.6C422.2 599.3 424 599.9 425.7 600.7C427.4 601.5 429.4 602.3 430.8 603.3C432.2 604.4 433 605.8 434 607C435 608.2 435.7 609.9 436.7 610.4C437.6 610.9 438.5 610.5 439.6 609.9C440.7 609.4 442.3 608.1 443.3 607C444.2 605.9 444.8 603.9 445.5 603C446.1 602.2 446.9 601.3 447.2 601.9C447.5 602.4 446.9 604.7 447.2 606.3C447.5 607.9 448.1 610.1 449.1 611.4C450.2 612.7 451.9 613.7 453.5 614.3C455.1 614.9 457.1 615 458.7 615.1C460.3 615.1 461.9 615.3 463.1 614.8C464.2 614.3 465.2 613.3 465.7 612.1C466.2 611 465.9 608.9 466.3 607.7C466.7 606.6 467.1 605.5 468.2 605.1C469.3 604.7 471 604.9 472.6 605.1C474.2 605.3 476 606 477.7 606.3C479.4 606.5 481.3 606.7 482.9 606.6C484.5 606.4 485.9 606.2 487.3 605.5C488.6 604.9 490.1 603.8 490.9 602.6C491.7 601.4 492.2 599.7 492.1 598.2C492.1 596.7 491.3 595.1 490.6 593.8C490 592.5 488.8 591.4 488 590.4C487.2 589.4 486 589 485.8 587.9C485.6 586.9 485.9 585.4 486.5 584.3C487.1 583.2 488.6 582.6 489.5 581.3C490.3 580.1 491.2 578.6 491.7 576.9C492.2 575.2 492.4 573 492.4 571.1C492.4 569.1 492.3 567.2 491.7 565.2C491.1 563.2 489.8 561.2 488.7 559.3C487.6 557.5 486.5 555.7 485.1 554.2C483.6 552.7 481.6 551.4 479.9 550.5C478.2 549.7 476.6 549.2 474.8 549.1C473 548.9 470.8 549.3 468.9 549.8C467.1 550.3 465.4 551.1 463.8 552C462.2 552.9 460.7 553.9 459.4 554.9C458.1 556 456.8 557.4 455.7 558.2C454.6 558.9 453.7 559.7 452.8 559.3Z" fill="none" stroke="#0a0a0a" stroke-width="2.5" stroke-linejoin="round"/>
<line x1="451.6" y1="585.2" x2="523.1" y2="585.2" stroke="#26e01c" stroke-width="2.8"/>
<line x1="451.6" y1="584.2" x2="451.6" y2="651" stroke="#cc2020" stroke-width="2.5"/>
</g>
<g>
<rect x="586.3" y="503.5" width="30" height="9.5" fill="#f1f1f1"/>
<text x="601.3" y="510.9" text-anchor="middle" font-family="'Liberation Sans',sans-serif" font-weight="bold" font-size="7.6" fill="#111">Vertical</text>
<g fill="none" stroke="#9a9a9a" stroke-width="0.5">
<circle cx="605.4" cy="585.2" r="58.7" stroke="#7d7d7d" stroke-width="0.7"/>
<circle cx="605.4" cy="585.2" r="14.7" stroke-dasharray="0.8 1.5" stroke="#a4a4a4"/>
<circle cx="605.4" cy="585.2" r="29.4" stroke-dasharray="0.8 1.5" stroke="#a4a4a4"/>
<circle cx="605.4" cy="585.2" r="44" stroke-dasharray="0.8 1.5" stroke="#a4a4a4"/>
<line x1="546.7" y1="585.2" x2="664.1" y2="585.2" stroke-dasharray="0.8 1.5" stroke="#a4a4a4"/>
<line x1="554.6" y1="555.9" x2="656.2" y2="614.6" stroke-dasharray="0.8 1.5" stroke="#a4a4a4"/>
<line x1="576" y1="534.4" x2="634.8" y2="636" stroke-dasharray="0.8 1.5" stroke="#a4a4a4"/>
<line x1="605.4" y1="526.5" x2="605.4" y2="643.9" stroke-dasharray="0.8 1.5" stroke="#a4a4a4"/>
<line x1="634.8" y1="534.4" x2="576" y2="636" stroke-dasharray="0.8 1.5" stroke="#a4a4a4"/>
<line x1="656.2" y1="555.9" x2="554.6" y2="614.6" stroke-dasharray="0.8 1.5" stroke="#a4a4a4"/>
</g>
<g font-family="'Liberation Sans',sans-serif" font-size="7" fill="#222" text-anchor="middle">
<text x="605.4" y="519.7">0</text>
<text x="571.4" y="528.8">30</text>
<text x="546.5" y="553.7">60</text>
<text x="537.4" y="587.7">90</text>
<text x="546.5" y="621.7">120</text>
<text x="571.4" y="646.6">150</text>
<text x="639.4" y="646.6">210</text>
<text x="664.3" y="621.7">240</text>
<text x="673.4" y="587.7">270</text>
<text x="664.3" y="553.7">300</text>
<text x="639.4" y="528.8">330</text>
</g>
<g font-family="'Liberation Sans',sans-serif" font-size="6.3" fill="#222">
<text x="606.6" y="583.4">-35</text>
<text x="620" y="589.6">-24.5</text>
<text x="632.8" y="595.4">-14</text>
<text x="645.6" y="602">-3.5</text>
<text x="659.2" y="606.5">7</text>
</g>
<path d="M605.4 530.9C604.1 530.6 602 530.6 599.9 530.5C597.7 530.4 595 530.4 592.5 530.5C590.1 530.6 587.3 530.5 585.2 530.9C583.1 531.4 581.4 532 580.1 533.1C578.7 534.2 577.8 535.8 577.1 537.5C576.5 539.2 576.2 541.1 576.1 543.3C576 545.5 576.5 548.5 576.4 550.7C576.3 552.9 576.4 555.2 575.7 556.5C574.9 557.9 573.2 558 572 558.7C570.8 559.5 568.8 560 568.3 560.9C567.8 561.9 568.2 563.3 569.1 564.6C569.9 566 572 567.8 573.5 569C574.9 570.2 578.1 571.6 577.9 571.9C577.6 572.3 574.2 571.3 572 571.2C569.8 571.1 566.9 571.1 564.7 571.5C562.5 571.9 560.1 572.6 558.8 573.4C557.5 574.2 556.7 575.2 556.6 576.3C556.5 577.4 557 579 558.1 580C559.2 581.1 561.1 581.9 563.2 582.7C565.3 583.4 568.2 584 570.5 584.4C572.9 584.9 577.1 585 577.1 585.3C577.1 585.6 572.5 585.9 570.5 586.5C568.6 587 566.6 587.8 565.4 588.7C564.2 589.5 563.5 590.6 563.5 591.6C563.5 592.6 564.2 593.6 565.4 594.5C566.6 595.5 569.1 596.4 570.5 597.5C572 598.6 573 600.3 574.2 601.1C575.4 602 576.4 602.5 577.9 602.6C579.3 602.7 581.4 602.4 583 601.9C584.6 601.4 586.2 600.2 587.4 599.7C588.6 599.1 590.1 598.2 590.3 598.6C590.6 599.1 589.7 601.5 588.9 602.6C588 603.7 585.7 604.6 585.2 605.5C584.7 606.5 585.4 607.4 585.9 608.5C586.4 609.6 587.9 610.7 588.1 612.1C588.4 613.6 587.4 615.7 587.4 617.3C587.4 618.9 587.3 620.7 588.1 621.7C589 622.6 590.8 623.1 592.5 623.1C594.2 623.1 596.6 622.2 598.4 621.7C600.2 621.1 601.8 620.4 603.5 619.8C605.2 619.1 607 618.7 608.7 618C610.4 617.3 612.2 617 613.8 615.8C615.4 614.6 616.9 612.1 618.2 610.7C619.5 609.2 620.6 607.9 621.9 607C623.1 606.1 624.8 606.4 625.5 605.5C626.3 604.7 626.4 603.2 626.3 601.9C626.1 600.6 624.6 598.7 624.8 597.8C625 596.8 626.6 596.7 627.7 596C628.8 595.3 630.7 594.8 631.4 593.8C632.1 592.8 631.9 591.4 632.1 590.1C632.4 588.9 633 587.6 632.9 586.5C632.7 585.4 631 584.4 631.4 583.5C631.8 582.7 633.6 582.1 635.1 581.3C636.5 580.6 638.7 580.1 640.2 579.1C641.7 578.2 643 576.8 643.9 575.5C644.7 574.1 645.5 572.3 645.3 571.1C645.2 569.8 644.2 568.6 643.1 567.8C642 567.1 640.1 567.1 638.7 566.7C637.3 566.3 635.6 566.2 634.8 565.5C634 564.8 633.6 563.5 633.9 562.3C634.2 561 636.1 559.3 636.5 557.9C637 556.4 637.1 554.7 636.5 553.5C635.9 552.2 634.3 551.2 632.9 550.5C631.4 549.8 629.4 549.6 627.7 549.4C626 549.2 624.3 549.5 622.6 549.4C620.9 549.3 618.8 549.4 617.5 548.8C616.1 548.1 615.3 546.7 614.5 545.4C613.8 544.1 613.7 542.6 613.1 541C612.5 539.4 611.7 537.3 610.9 535.9C610 534.4 608.8 533 607.9 532.2C607 531.4 606.8 531.2 605.4 530.9Z" fill="none" stroke="#0a0a0a" stroke-width="2.5" stroke-linejoin="round"/>
<line x1="534.4" y1="585.2" x2="605.4" y2="585.2" stroke="#cc2020" stroke-width="2.5"/>
<line x1="605.4" y1="586.2" x2="605.4" y2="513.8" stroke="#1c1cc8" stroke-width="2.4"/>
</g>
</svg>
</body></html>
